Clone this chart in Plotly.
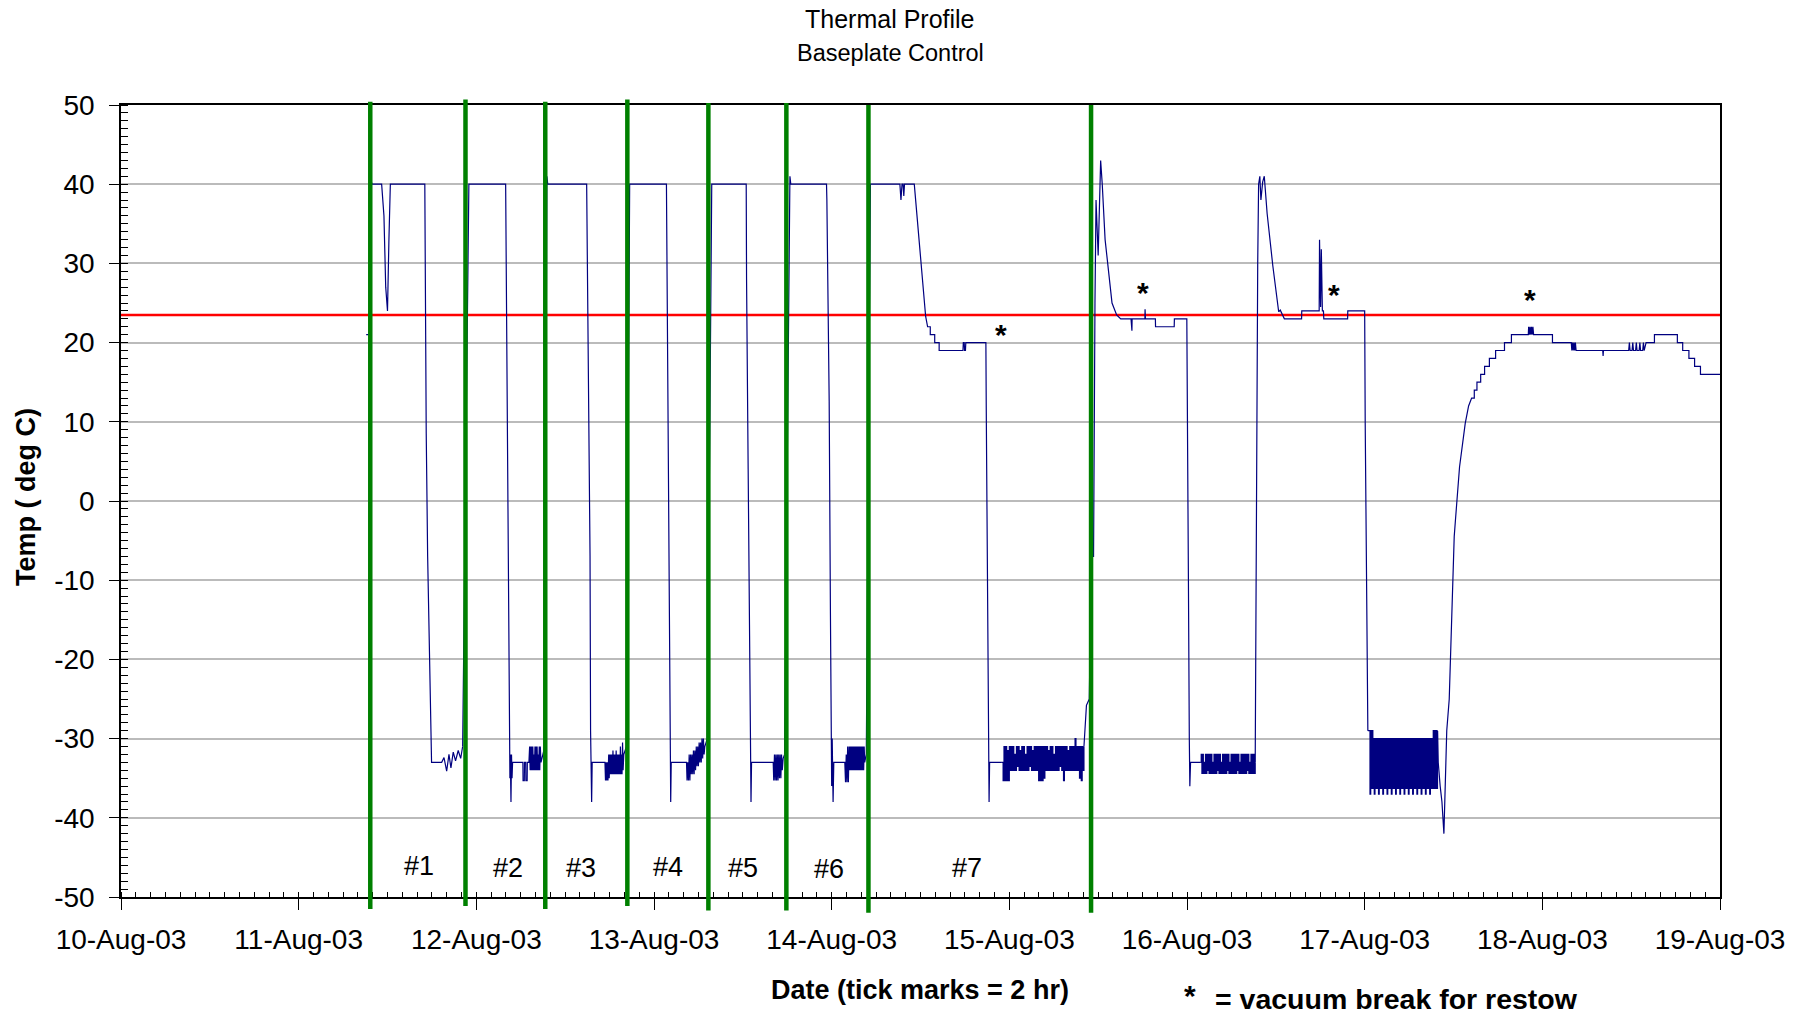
import pandas as pd
import plotly.graph_objects as go

BASE = pd.Timestamp("2003-08-10")  # x axis starts 10-Aug-03 00:00

# ---------------- data: (days after 10-Aug-03 00:00, temperature deg C) ----------------
cycle1 = [(1.380, 21.0), (1.400, 21.0), (1.404, 41.0), (1.412, 40.0), (1.467, 40.0), (1.480, 36.0),
          (1.490, 27.0), (1.500, 24.0), (1.508, 33.0), (1.516, 40.0), (1.710, 40.0), (1.712, 29.6),
          (1.718, 8.5), (1.726, -7.0), (1.735, -17.6), (1.742, -27.8), (1.748, -33.0), (1.805, -33.0),
          (1.818, -32.4), (1.833, -34.1), (1.846, -32.0), (1.857, -33.7), (1.870, -31.7), (1.883, -32.8),
          (1.898, -31.5), (1.912, -32.5), (1.923, -31.0)]

cycle2 = [(1.950, 28.0), (1.958, 40.0), (2.165, 40.0), (2.167, 34.0), (2.172, 10.0), (2.180, -13.0),
          (2.186, -29.0), (2.189, -35.0), (2.191, -32.0), (2.193, -35.0), (2.195, -38.0), (2.198, -32.0),
          (2.201, -35.0), (2.204, -33.0), (2.262, -33.0), (2.263, -35.3), (2.270, -35.3), (2.271, -33.0),
          (2.278, -33.0), (2.279, -35.3), (2.286, -35.3), (2.287, -33.0), (2.296, -33.0), (2.300, -31.0),
          (2.303, -34.0), (2.306, -31.0), (2.309, -34.0), (2.312, -31.0), (2.315, -34.0), (2.318, -31.0),
          (2.321, -34.0), (2.324, -32.0), (2.327, -34.0), (2.330, -31.0), (2.333, -34.0), (2.336, -31.0),
          (2.339, -34.0), (2.342, -31.0), (2.345, -34.0), (2.348, -32.0), (2.351, -34.0), (2.354, -31.0),
          (2.357, -34.0), (2.360, -31.0), (2.364, -33.0), (2.385, -31.0)]

cycle3 = [(2.392, 29.0), (2.397, 41.0), (2.402, 40.0), (2.621, 40.0), (2.623, 35.0), (2.630, 20.0),
          (2.636, 8.5), (2.640, -7.0), (2.643, -29.0), (2.646, -35.0), (2.649, -38.0), (2.652, -33.0),
          (2.724, -33.0), (2.727, -35.3), (2.731, -33.0), (2.734, -35.3), (2.738, -33.0), (2.741, -35.3),
          (2.745, -32.0), (2.748, -35.0), (2.751, -32.0), (2.754, -34.5), (2.757, -32.0), (2.760, -34.5),
          (2.763, -32.0), (2.766, -34.5), (2.769, -31.5), (2.772, -34.5), (2.775, -32.0), (2.778, -34.5),
          (2.781, -32.0), (2.784, -34.5), (2.787, -31.5), (2.790, -34.5), (2.793, -32.0), (2.796, -34.5),
          (2.799, -32.0), (2.802, -34.5), (2.805, -32.0), (2.808, -34.5), (2.811, -31.0), (2.814, -34.5),
          (2.817, -32.0), (2.820, -34.5), (2.823, -30.5), (2.826, -34.0), (2.830, -32.0), (2.845, -31.0)]

cycle4 = [(2.858, 30.0), (2.863, 40.0), (3.070, 40.0), (3.072, 33.4), (3.078, 21.6), (3.082, 9.5),
          (3.086, -16.0), (3.090, -29.0), (3.092, -35.0), (3.094, -38.0), (3.097, -33.0), (3.183, -33.0),
          (3.186, -35.3), (3.190, -33.0), (3.194, -35.3), (3.198, -32.0), (3.202, -35.3), (3.206, -32.0),
          (3.210, -34.5), (3.214, -32.0), (3.218, -34.5), (3.222, -31.5), (3.226, -34.5), (3.230, -31.5),
          (3.234, -34.0), (3.238, -31.0), (3.242, -33.5), (3.246, -31.0), (3.250, -33.5), (3.254, -30.5),
          (3.258, -33.0), (3.262, -30.5), (3.266, -33.0), (3.270, -30.0), (3.274, -32.5), (3.278, -30.0),
          (3.282, -32.0), (3.286, -31.0), (3.300, -30.0)]

cycle5 = [(3.318, 28.0), (3.325, 40.0), (3.519, 40.0), (3.521, 28.0), (3.530, 4.0), (3.537, -13.0),
          (3.543, -29.0), (3.546, -38.0), (3.549, -33.0), (3.671, -33.0), (3.674, -35.3), (3.678, -32.0),
          (3.682, -35.3), (3.686, -32.0), (3.690, -35.3), (3.694, -32.0), (3.698, -35.3), (3.702, -32.0),
          (3.706, -35.0), (3.710, -32.0), (3.714, -35.0), (3.718, -32.0), (3.722, -34.0), (3.727, -32.5),
          (3.735, -32.0)]

cycle6 = [(3.758, 29.0), (3.765, 41.0), (3.770, 40.0), (3.971, 40.0), (3.973, 38.0), (3.980, 26.7),
          (3.986, 12.6), (3.993, -14.0), (3.998, -29.0), (4.000, -36.0), (4.003, -30.0), (4.006, -36.0),
          (4.008, -38.0), (4.012, -33.0), (4.074, -33.0), (4.078, -35.5), (4.082, -32.0), (4.086, -35.5),
          (4.090, -31.0), (4.094, -35.5), (4.098, -31.0), (4.102, -34.0), (4.105, -31.0), (4.108, -34.0),
          (4.111, -31.0), (4.114, -34.0), (4.117, -31.0), (4.120, -34.0), (4.123, -31.0), (4.126, -34.0),
          (4.129, -31.0), (4.132, -34.0), (4.135, -31.0), (4.138, -34.0), (4.141, -31.0), (4.144, -34.0),
          (4.147, -31.0), (4.150, -34.0), (4.153, -31.0), (4.156, -34.0), (4.159, -31.0), (4.162, -34.0),
          (4.165, -31.0), (4.168, -34.0), (4.171, -31.0), (4.174, -34.0), (4.177, -31.0), (4.180, -34.0),
          (4.183, -31.0), (4.186, -33.0), (4.195, -32.0)]

cycle7 = [(4.212, 30.0), (4.218, 40.0), (4.384, 40.0), (4.390, 38.0), (4.396, 40.0), (4.402, 40.0),
          (4.406, 38.5), (4.410, 40.0), (4.465, 40.0), (4.481, 35.9), (4.497, 31.3), (4.513, 26.6),
          (4.529, 23.3), (4.540, 22.0), (4.555, 22.0), (4.555, 21.0), (4.580, 21.0), (4.580, 20.0),
          (4.605, 20.0), (4.605, 19.0), (4.739, 19.0), (4.741, 20.0), (4.746, 20.0), (4.748, 19.0),
          (4.753, 19.0), (4.755, 20.0), (4.868, 20.0), (4.870, 12.0), (4.875, -1.0), (4.880, -20.0),
          (4.884, -31.0), (4.886, -38.0), (4.889, -33.0), (4.958, -33.0)]

soak7 = [(4.965, -35.3), (4.970, -31.0), (4.975, -35.3), (4.980, -31.0), (4.985, -35.3),
         (4.990, -31.5), (4.995, -35.3), (5.000, -31.0), (5.005, -34.0), (5.010, -31.0),
         (5.015, -34.0), (5.020, -31.0), (5.025, -34.0), (5.030, -32.0), (5.035, -34.0),
         (5.040, -31.0), (5.045, -33.5), (5.050, -31.0), (5.055, -34.0), (5.060, -31.5),
         (5.065, -34.0), (5.070, -31.0), (5.075, -34.0), (5.080, -31.0), (5.085, -34.0),
         (5.090, -32.0), (5.095, -34.0), (5.100, -31.0), (5.105, -34.0), (5.110, -31.0),
         (5.115, -33.5), (5.120, -31.0), (5.125, -34.0), (5.130, -31.5), (5.135, -34.0),
         (5.140, -31.0), (5.145, -34.0), (5.150, -31.0), (5.155, -34.0), (5.160, -31.0),
         (5.165, -35.3), (5.170, -31.0), (5.175, -35.3), (5.180, -31.0), (5.185, -35.3),
         (5.190, -31.0), (5.195, -35.0), (5.200, -31.0), (5.205, -34.0), (5.210, -31.0),
         (5.215, -34.0), (5.220, -31.5), (5.225, -34.0), (5.230, -31.0), (5.235, -34.0),
         (5.240, -31.0), (5.245, -34.0), (5.250, -32.0), (5.255, -34.0), (5.260, -31.0),
         (5.265, -34.0), (5.270, -31.0), (5.275, -34.0), (5.280, -31.0), (5.285, -33.5),
         (5.290, -31.0), (5.295, -34.0), (5.300, -31.0), (5.305, -35.3), (5.310, -31.0),
         (5.315, -34.0), (5.320, -31.0), (5.325, -34.0), (5.330, -31.5), (5.335, -34.0),
         (5.340, -31.0), (5.345, -34.0), (5.350, -31.0), (5.355, -34.0), (5.360, -31.0),
         (5.365, -34.0), (5.370, -30.0), (5.375, -34.0), (5.380, -31.0), (5.385, -34.0),
         (5.390, -31.0), (5.395, -35.0), (5.400, -31.0), (5.405, -35.3), (5.410, -31.0),
         (5.415, -34.0), (5.420, -31.0)]

warm8 = [(5.434, -25.8), (5.450, -25.0), (5.462, -7.0), (5.474, -7.0), (5.478, 25.0), (5.482, 25.0),
         (5.488, 38.0), (5.500, 31.0), (5.514, 43.0), (5.523, 40.0), (5.539, 33.0), (5.556, 29.5),
         (5.578, 25.0), (5.604, 23.5), (5.627, 23.0), (5.685, 23.0), (5.686, 21.5), (5.690, 21.5),
         (5.691, 23.0), (5.763, 23.0), (5.764, 24.2), (5.766, 23.0), (5.822, 23.0), (5.823, 22.0),
         (5.928, 22.0), (5.929, 23.0), (5.999, 23.0), (6.001, 12.0), (6.008, -10.0), (6.013, -30.0),
         (6.016, -36.0), (6.020, -33.0), (6.074, -33.0)]

soak8 = [(6.080, -32.0), (6.084, -34.4), (6.088, -32.0), (6.092, -34.4), (6.096, -33.0),
         (6.100, -34.4), (6.104, -32.0), (6.108, -34.4), (6.112, -32.0), (6.116, -34.0),
         (6.120, -32.0), (6.124, -34.4), (6.128, -32.0), (6.132, -34.4), (6.136, -32.0),
         (6.140, -34.4), (6.144, -33.0), (6.148, -34.4), (6.152, -32.0), (6.156, -34.4),
         (6.160, -32.0), (6.164, -34.4), (6.168, -32.0), (6.172, -34.0), (6.176, -32.0),
         (6.180, -34.4), (6.184, -32.0), (6.188, -34.4), (6.192, -33.0), (6.196, -34.4),
         (6.200, -32.0), (6.204, -34.4), (6.208, -32.0), (6.212, -34.4), (6.216, -32.0),
         (6.220, -34.4), (6.224, -32.0), (6.228, -34.0), (6.232, -32.0), (6.236, -34.4),
         (6.240, -33.0), (6.244, -34.4), (6.248, -32.0), (6.252, -34.4), (6.256, -32.0),
         (6.260, -34.4), (6.264, -32.0), (6.268, -34.4), (6.272, -32.0), (6.276, -34.4),
         (6.280, -32.0), (6.284, -34.0), (6.288, -32.0), (6.292, -34.4), (6.296, -33.0),
         (6.300, -34.4), (6.304, -32.0), (6.308, -34.4), (6.312, -32.0), (6.316, -34.4),
         (6.320, -32.0), (6.324, -34.4), (6.328, -32.0), (6.332, -34.4), (6.336, -32.0),
         (6.340, -34.0), (6.344, -32.0), (6.348, -34.4), (6.352, -33.0), (6.356, -34.4),
         (6.360, -32.0), (6.364, -34.4), (6.368, -32.0), (6.372, -34.4), (6.376, -32.0),
         (6.380, -34.4), (6.384, -33.0)]

warm9 = [(6.390, 0.0), (6.398, 30.0), (6.403, 40.0), (6.410, 41.0), (6.416, 38.0), (6.426, 40.3),
         (6.435, 41.0), (6.451, 36.3), (6.483, 29.7), (6.516, 23.9), (6.525, 24.1), (6.548, 23.0),
         (6.645, 23.0), (6.646, 24.0), (6.744, 24.0), (6.746, 33.0), (6.752, 24.5), (6.756, 31.8),
         (6.762, 24.0), (6.768, 24.0), (6.770, 23.0), (6.904, 23.0), (6.905, 24.0), (7.000, 24.0),
         (7.003, 10.0), (7.010, -10.0), (7.018, -29.0)]

soak9 = [(7.026, -29.0), (7.030, -37.0), (7.034, -29.0), (7.038, -36.3), (7.042, -29.0), (7.046, -36.3),
         (7.050, -30.0), (7.054, -37.0), (7.058, -30.0), (7.062, -36.3), (7.066, -30.0), (7.070, -36.3),
         (7.074, -30.0), (7.078, -37.0), (7.082, -30.0), (7.086, -36.3), (7.090, -30.0), (7.094, -36.3),
         (7.098, -30.0), (7.102, -37.0), (7.106, -30.0), (7.110, -36.3), (7.114, -30.0), (7.118, -36.3),
         (7.122, -30.0), (7.126, -37.0), (7.130, -30.0), (7.134, -36.3), (7.138, -30.0), (7.142, -36.3),
         (7.146, -30.0), (7.150, -37.0), (7.154, -30.0), (7.158, -36.3), (7.162, -30.0), (7.166, -36.3),
         (7.170, -30.0), (7.174, -37.0), (7.178, -30.0), (7.182, -36.3), (7.186, -30.0), (7.190, -36.3),
         (7.194, -30.0), (7.198, -37.0), (7.202, -30.0), (7.206, -36.3), (7.210, -30.0), (7.214, -36.3),
         (7.218, -30.0), (7.222, -37.0), (7.226, -30.0), (7.230, -36.3), (7.234, -30.0), (7.238, -36.3),
         (7.242, -30.0), (7.246, -37.0), (7.250, -30.0), (7.254, -36.3), (7.258, -30.0), (7.262, -36.3),
         (7.266, -30.0), (7.270, -37.0), (7.274, -30.0), (7.278, -36.3), (7.282, -30.0), (7.286, -36.3),
         (7.290, -30.0), (7.294, -37.0), (7.298, -30.0), (7.302, -36.3), (7.306, -30.0), (7.310, -36.3),
         (7.314, -30.0), (7.318, -37.0), (7.322, -30.0), (7.326, -36.3), (7.330, -30.0), (7.334, -36.3),
         (7.338, -30.0), (7.342, -37.0), (7.346, -30.0), (7.350, -36.3), (7.354, -30.0), (7.358, -36.3),
         (7.362, -30.0), (7.366, -37.0), (7.370, -30.0), (7.374, -36.3), (7.378, -30.0), (7.382, -36.3),
         (7.386, -29.0), (7.390, -36.3), (7.394, -29.0), (7.398, -36.3), (7.402, -29.0), (7.406, -36.3),
         (7.410, -29.0)]

recovery = [(7.414, -33.0), (7.425, -36.0), (7.435, -38.0), (7.446, -42.0), (7.452, -38.0), (7.462, -29.0),
            (7.476, -25.0), (7.482, -20.0), (7.488, -15.0), (7.495, -8.7), (7.504, -4.5), (7.511, -2.4),
            (7.534, 4.3), (7.566, 9.8), (7.585, 12.0), (7.602, 13.0), (7.617, 13.0), (7.617, 14.0),
            (7.632, 14.0), (7.632, 15.0), (7.653, 15.0), (7.653, 16.0), (7.675, 16.0), (7.675, 17.0),
            (7.702, 17.0), (7.702, 18.0), (7.737, 18.0), (7.737, 19.0), (7.787, 19.0), (7.787, 20.0),
            (7.826, 20.0), (7.826, 21.0), (7.921, 21.0), (7.923, 22.0), (7.927, 21.0), (7.931, 22.0),
            (7.935, 21.0), (7.939, 22.0), (7.943, 21.0), (7.947, 22.0), (7.951, 21.0), (8.057, 21.0),
            (8.057, 20.0), (8.163, 20.0), (8.166, 19.0), (8.170, 20.0), (8.174, 19.0), (8.178, 20.0),
            (8.182, 19.0), (8.186, 20.0), (8.190, 19.0), (8.340, 19.0), (8.342, 18.3), (8.344, 19.0),
            (8.486, 19.0), (8.490, 20.0), (8.494, 19.0), (8.505, 19.0), (8.509, 20.0), (8.513, 19.0),
            (8.525, 19.0), (8.529, 20.0), (8.533, 19.0), (8.545, 19.0), (8.549, 20.0), (8.553, 19.0),
            (8.565, 19.0), (8.569, 20.0), (8.573, 19.0), (8.584, 20.0), (8.631, 20.0), (8.631, 21.0),
            (8.760, 21.0), (8.760, 20.0), (8.790, 20.0), (8.790, 19.0), (8.825, 19.0), (8.825, 18.0),
            (8.857, 18.0), (8.857, 17.0), (8.890, 17.0), (8.890, 16.0), (9.000, 16.0)]

setpoint_temp = 23.5
setpoint_days = [0.0, 9.0]

# green cycle markers (days) and their vertical extent (deg C)
marker_days = [1.403, 1.939, 2.388, 2.850, 3.306, 3.745, 4.207, 5.460]
marker_top = [50.4, 50.7, 50.4, 50.7, 50.25, 50.25, 50.0, 50.0]
marker_bottom = [-51.5, -51.15, -51.5, -51.15, -51.7, -51.7, -52.0, -52.0]

cycle_labels = ["#1", "#2", "#3", "#4", "#5", "#6", "#7"]
cycle_label_days = [1.677, 2.178, 2.591, 3.076, 3.503, 3.987, 4.762]
cycle_label_temp = [-46.1, -46.4, -46.4, -46.2, -46.4, -46.5, -46.4]

restow_days = [4.952, 5.754, 6.830, 7.931]
restow_temp = [21.3, 26.6, 26.4, 25.7]

x_tick_days = [0, 1, 2, 3, 4, 5, 6, 7, 8, 9]
y_ticks = [-50, -40, -30, -20, -10, 0, 10, 20, 30, 40, 50]

# ---------------- build ----------------
FONT = "Liberation Sans, Arial, sans-serif"
BLUE = "#000080"


def to_dt(days):
    return [BASE + pd.Timedelta(days=d) for d in days]


# logger soak periods are drawn as steps (sample-and-hold), ramps as straight lines
blue_segments = [(cycle1, "linear"), (cycle2, "linear"), (cycle3, "linear"), (cycle4, "linear"),
                 (cycle5, "linear"), (cycle6, "linear"), (cycle7, "linear"), (soak7, "hv"),
                 (warm8, "linear"), (soak8, "hv"), (warm9, "linear"), (soak9, "hv"),
                 (recovery, "linear")]

fig = go.Figure()

fig.add_trace(go.Scatter(
    x=to_dt(setpoint_days), y=[setpoint_temp, setpoint_temp], mode="lines",
    line=dict(color="#FF0000", width=2.5), hoverinfo="skip"))

prev = None
for seg, shape in blue_segments:
    pts = ([prev] if prev is not None else []) + seg
    fig.add_trace(go.Scatter(
        x=to_dt([p[0] for p in pts]), y=[p[1] for p in pts], mode="lines",
        line=dict(color=BLUE, width=1.2, shape=shape)))
    prev = seg[-1]

shapes = []
for d, top, bot in zip(marker_days, marker_top, marker_bottom):
    xd = (BASE + pd.Timedelta(days=d)).strftime("%Y-%m-%d %H:%M:%S")
    shapes.append(dict(type="line", xref="x", yref="paper", x0=xd, x1=xd,
                       y0=(bot + 50) / 100.0, y1=(top + 50) / 100.0,
                       line=dict(color="#008000", width=4.5), layer="above"))

annotations = []
for lab, d, v in zip(cycle_labels, cycle_label_days, cycle_label_temp):
    annotations.append(dict(x=BASE + pd.Timedelta(days=d), y=v, xref="x", yref="y", text=lab,
                            showarrow=False, font=dict(family=FONT, size=27, color="black"),
                            xanchor="center", yanchor="middle"))
for d, v in zip(restow_days, restow_temp):
    annotations.append(dict(x=BASE + pd.Timedelta(days=d), y=v, xref="x", yref="y", text="<b>*</b>",
                            showarrow=False, font=dict(family=FONT, size=30, color="black"),
                            xanchor="center", yanchor="middle", yshift=-2.5))

annotations += [
    dict(x=0.481, y=1.1086, xref="paper", yref="paper", text="Thermal Profile", showarrow=False,
         font=dict(family=FONT, size=25, color="black"), xanchor="center", yanchor="middle"),
    dict(x=0.481, y=1.066, xref="paper", yref="paper", text="Baseplate Control", showarrow=False,
         font=dict(family=FONT, size=23.5, color="black"), xanchor="center", yanchor="middle"),
    dict(x=0.4994, y=-0.1174, xref="paper", yref="paper", text="<b>Date (tick marks = 2 hr)</b>",
         showarrow=False, font=dict(family=FONT, size=27, color="black"),
         xanchor="center", yanchor="middle"),
    dict(x=-0.0594, y=0.505, xref="paper", yref="paper", text="<b>Temp ( deg C)</b>", textangle=-90,
         showarrow=False, font=dict(family=FONT, size=27, color="black"),
         xanchor="center", yanchor="middle"),
    dict(x=0.6685, y=-0.1196, xref="paper", yref="paper", text="<b>*</b>", showarrow=False,
         font=dict(family=FONT, size=30, color="black"), xanchor="center", yanchor="middle", yshift=-4),
    dict(x=0.6829, y=-0.1290, xref="paper", yref="paper", text="<b>= vacuum break for restow</b>",
         showarrow=False, font=dict(family=FONT, size=28.5, color="black"),
         xanchor="left", yanchor="middle"),
]

fig.update_layout(
    width=1802, height=1016,
    margin=dict(l=121, r=82, t=105, b=119),
    paper_bgcolor="white", plot_bgcolor="white",
    showlegend=False,
    shapes=shapes, annotations=annotations,
    font=dict(family=FONT, color="black"),
    xaxis=dict(
        type="date",
        range=to_dt([x_tick_days[0], x_tick_days[-1]]),
        tickvals=to_dt(x_tick_days), tickformat="%d-%b-%y",
        ticks="outside", ticklen=11, tickwidth=1, tickcolor="black",
        tickfont=dict(family=FONT, size=28, color="black"), ticklabelstandoff=6,
        showline=True, linecolor="black", linewidth=1.5, mirror=True,
        showgrid=False, zeroline=False,
        minor=dict(dtick=7200000, tick0=BASE, ticks="inside", ticklen=5, tickwidth=1,
                   tickcolor="black", showgrid=False),
    ),
    yaxis=dict(
        range=[y_ticks[0], y_ticks[-1]], tickvals=y_ticks, ticktext=[str(v) for v in y_ticks],
        ticks="outside", ticklen=10, tickwidth=1, tickcolor="black",
        tickfont=dict(family=FONT, size=28, color="black"), ticklabelstandoff=9,
        showline=True, linecolor="black", linewidth=1.5, mirror=True,
        showgrid=True, gridcolor="#BBBBBB", gridwidth=1.5, zeroline=False,
        minor=dict(dtick=1, ticks="inside", ticklen=7, tickwidth=1, tickcolor="black", showgrid=False),
    ),
)

fig.write_html("out.html")
